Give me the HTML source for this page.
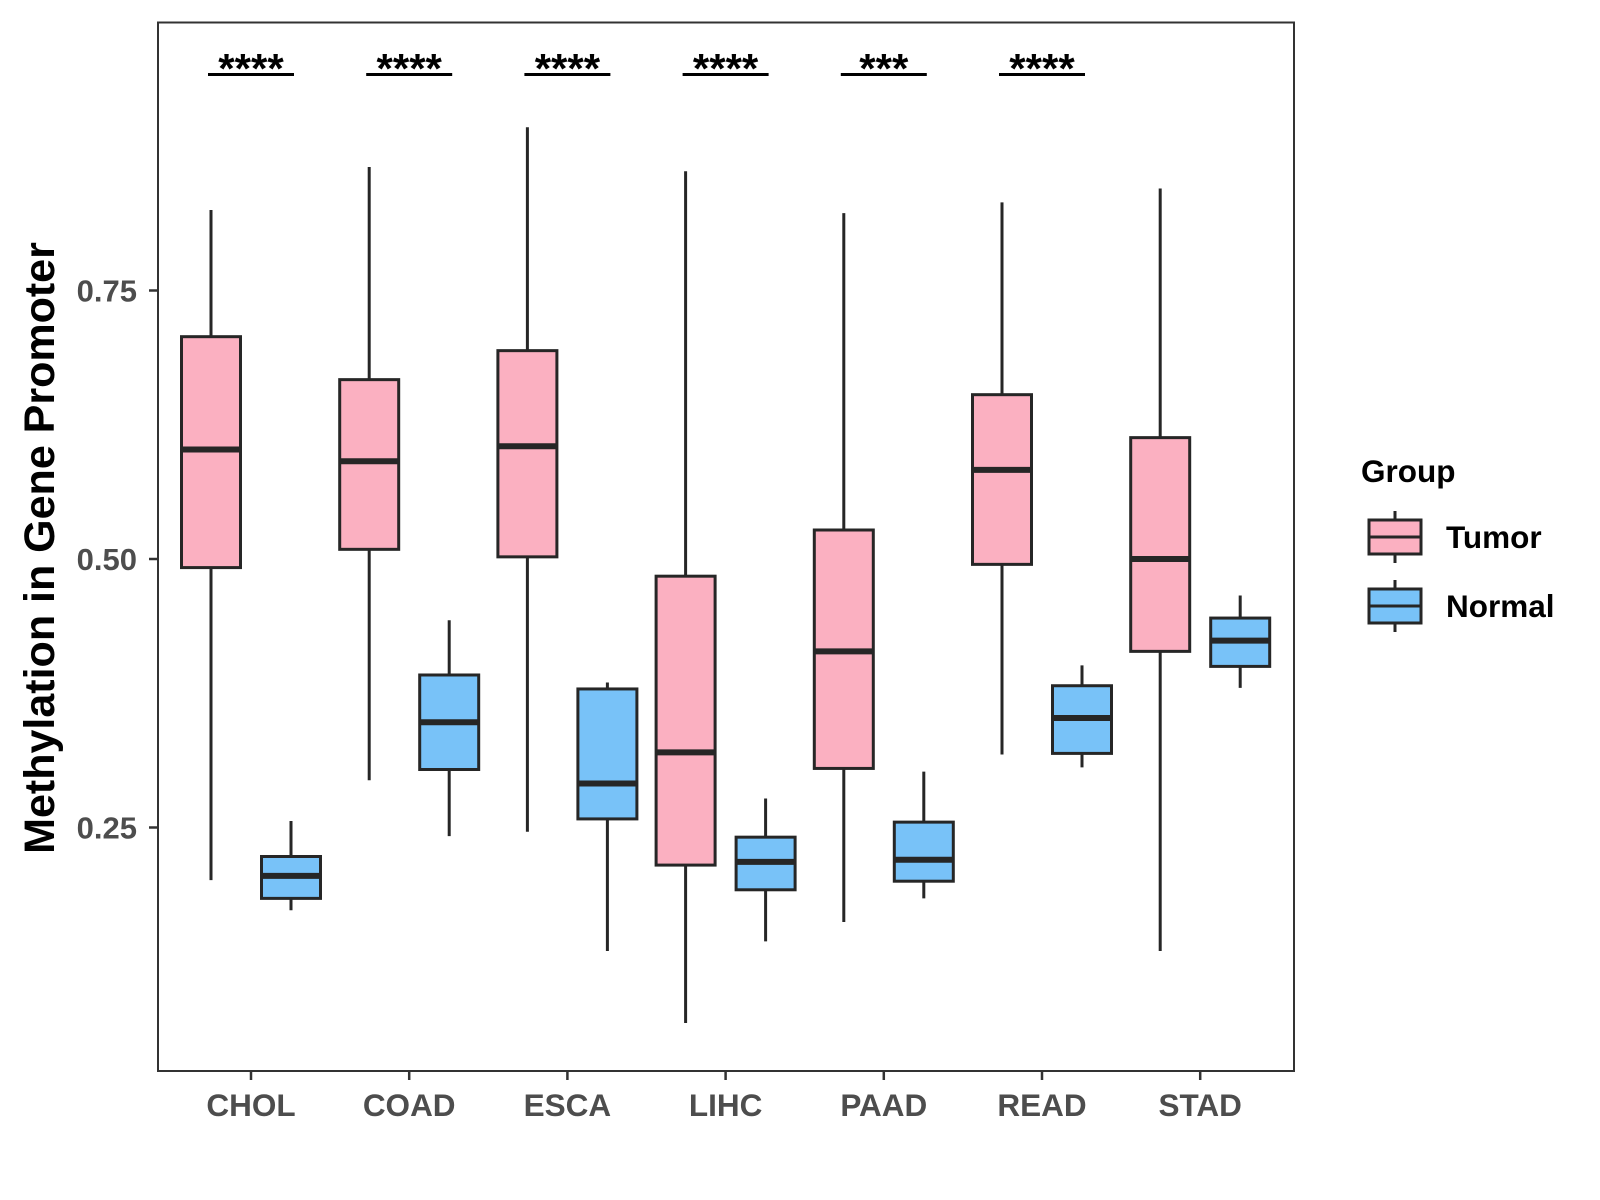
<!DOCTYPE html>
<html><head><meta charset="utf-8"><style>
html,body{margin:0;padding:0;background:#fff;}
svg{display:block;font-family:"Liberation Sans",Arial,sans-serif;}
</style></head><body>
<svg id="chart" width="1600" height="1200" viewBox="0 0 1600 1200"></svg>
<script>
const categories=["CHOL","COAD","ESCA","LIHC","PAAD","READ","STAD"];
const tumorStats=[[0.201,0.492,0.602,0.707,0.825],[0.294,0.509,0.591,0.667,0.865],[0.246,0.502,0.605,0.694,0.902],[0.068,0.215,0.320,0.484,0.861],[0.162,0.305,0.414,0.527,0.822],[0.318,0.495,0.583,0.653,0.832],[0.135,0.414,0.500,0.613,0.845]];
const normalStats=[[0.173,0.184,0.205,0.223,0.256],[0.242,0.304,0.348,0.392,0.443],[0.135,0.258,0.291,0.379,0.385],[0.144,0.192,0.218,0.241,0.277],[0.184,0.200,0.220,0.255,0.302],[0.306,0.319,0.352,0.382,0.401],[0.380,0.400,0.424,0.445,0.466]];
const sigLabels=["****","****","****","****","***","****",""];
const yTicks=[0.25,0.5,0.75];
const yTickLabels=["0.25","0.50","0.75"];

const NS="http://www.w3.org/2000/svg";
const svg=document.getElementById('chart');
const P={l:158,t:22.5,r:1294,b:1071};
function y(v){return 559-(v-0.5)*1074;}
function x(i){return 251+i*158.2;}
function mk(tag,attrs,parent){const e=document.createElementNS(NS,tag);for(const k in attrs)e.setAttribute(k,attrs[k]);(parent||svg).appendChild(e);return e;}
const LC="#262626";

const panel=mk('rect',{x:P.l,y:P.t,width:P.r-P.l,height:P.b-P.t,fill:'none',stroke:'#333',"stroke-width":2});



yTicks.forEach((v,i)=>{
  const t=mk('line',{x1:P.l-9,x2:P.l,y1:y(v),y2:y(v),stroke:'#333',"stroke-width":2.5});
  
  
  const l=mk('text',{x:137,y:y(v)+11,"text-anchor":"end","font-size":31,"font-weight":"bold",fill:"#4d4d4d"});
  l.textContent=yTickLabels[i];
  
  
});
categories.forEach((c,i)=>{
  const t=mk('line',{x1:x(i),x2:x(i),y1:P.b,y2:P.b+9,stroke:'#333',"stroke-width":2.5});
  
  
  const l=mk('text',{x:x(i),y:P.b+45,"text-anchor":"middle","font-size":31.5,"font-weight":"bold",fill:"#4d4d4d"});
  l.textContent=c;
  
  
});

function box(cx,s,fill,name){
  const g=mk('g',{});
  
  
  const w=59;
  mk('line',{x1:cx,x2:cx,y1:y(s[0]),y2:y(s[4]),stroke:LC,"stroke-width":3},g);
  mk('rect',{x:cx-w/2,y:y(s[3]),width:w,height:y(s[1])-y(s[3]),fill:fill,stroke:LC,"stroke-width":3},g);
  mk('line',{x1:cx-w/2,x2:cx+w/2,y1:y(s[2]),y2:y(s[2]),stroke:LC,"stroke-width":6},g);
}
categories.forEach((c,i)=>{
  box(x(i)-40,tumorStats[i],'#FBB0C1','tumor-box-'+c.toLowerCase());
  box(x(i)+40,normalStats[i],'#78C2F8','normal-box-'+c.toLowerCase());
  if(sigLabels[i]){
    const ln=mk('line',{x1:x(i)-43,x2:x(i)+43,y1:74.5,y2:74.5,stroke:'#000',"stroke-width":3});
    
    
    const st=mk('text',{x:x(i),y:83,"text-anchor":"middle","font-size":42,"font-weight":"bold",fill:"#000"});
    st.textContent=sigLabels[i];
    
    
  }
});

const yt=mk('text',{x:0,y:0,transform:"translate(54,548) rotate(-90)","text-anchor":"middle","font-size":43,"font-weight":"bold",fill:"#000"});
yt.textContent="Methylation in Gene Promoter";



const lt=mk('text',{x:1361,y:482,"font-size":31.5,"font-weight":"bold",fill:"#000"});
lt.textContent="Group";


[["Tumor","#FBB0C1",537],["Normal","#78C2F8",606]].forEach(([n,f,cy])=>{
  const g=mk('g',{});
  
  
  mk('line',{x1:1395,x2:1395,y1:cy-26,y2:cy+26,stroke:LC,"stroke-width":3},g);
  mk('rect',{x:1369,y:cy-17,width:52,height:34,fill:f,stroke:LC,"stroke-width":3},g);
  mk('line',{x1:1369,x2:1421,y1:cy,y2:cy,stroke:LC,"stroke-width":3},g);
  const t=mk('text',{x:1446,y:cy+11,"font-size":31.5,"font-weight":"bold",fill:"#000"},g);
  t.textContent=n;
});
</script>
</body></html>
